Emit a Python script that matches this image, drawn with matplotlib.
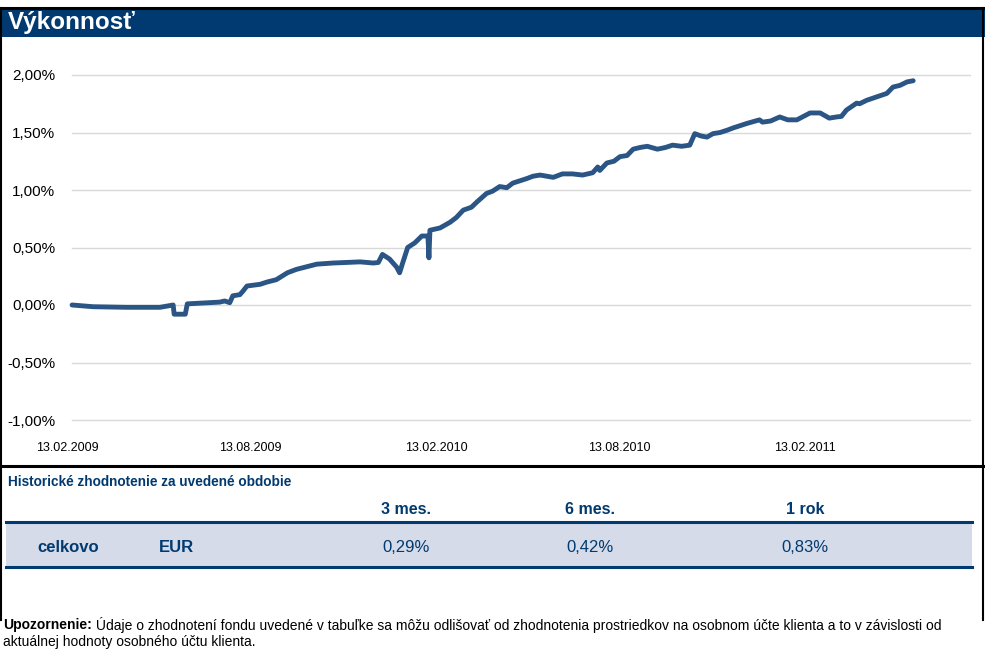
import numpy as np
import matplotlib
matplotlib.use("Agg")
import matplotlib.pyplot as plt
import matplotlib.dates as mdates
from matplotlib.lines import Line2D
from matplotlib.patches import Rectangle

# performance series
dates = [
    "2009-02-18", "2009-03-11", "2009-04-13", "2009-05-16", "2009-05-29",
    "2009-05-30", "2009-06-10", "2009-06-12", "2009-07-14", "2009-07-19",
    "2009-07-24", "2009-07-27", "2009-08-03", "2009-08-06", "2009-08-10",
    "2009-08-23", "2009-08-30", "2009-09-08", "2009-09-19", "2009-09-28",
    "2009-10-18", "2009-11-03", "2009-11-30", "2009-12-13", "2009-12-18",
    "2009-12-22", "2009-12-29", "2010-01-05", "2010-01-08", "2010-01-11",
    "2010-01-16", "2010-01-23", "2010-01-30", "2010-02-05", "2010-02-06",
    "2010-02-07", "2010-02-17", "2010-02-27", "2010-03-05", "2010-03-12",
    "2010-03-20", "2010-03-26", "2010-04-04", "2010-04-10", "2010-04-17",
    "2010-04-24", "2010-04-30", "2010-05-07", "2010-05-14", "2010-05-20",
    "2010-05-27", "2010-06-09", "2010-06-18", "2010-06-28", "2010-07-08",
    "2010-07-18", "2010-07-23", "2010-07-25", "2010-08-01", "2010-08-08",
    "2010-08-14", "2010-08-21", "2010-08-27", "2010-09-03", "2010-09-10",
    "2010-09-20", "2010-09-28", "2010-10-05", "2010-10-14", "2010-10-22",
    "2010-10-27", "2010-11-02", "2010-11-08", "2010-11-14", "2010-11-21",
    "2010-11-28", "2010-12-04", "2010-12-11", "2010-12-18", "2010-12-30",
    "2011-01-02", "2011-01-10", "2011-01-19", "2011-01-27", "2011-02-05",
    "2011-02-18", "2011-02-28", "2011-03-09", "2011-03-16", "2011-03-21",
    "2011-03-26", "2011-04-05", "2011-04-08", "2011-04-15", "2011-04-25",
    "2011-05-05", "2011-05-11", "2011-05-18", "2011-05-25", "2011-05-31",
]
values = [
    0.00, -0.015, -0.02, -0.02, 0.00,
    -0.08, -0.08, 0.01, 0.025, 0.035,
    0.02, 0.08, 0.09, 0.12, 0.165,
    0.18, 0.20, 0.22, 0.28, 0.31,
    0.355, 0.365, 0.375, 0.365, 0.37,
    0.44, 0.40, 0.33, 0.28, 0.365,
    0.50, 0.54, 0.60, 0.60, 0.41,
    0.65, 0.67, 0.72, 0.76, 0.825,
    0.85, 0.90, 0.97, 0.99, 1.03,
    1.02, 1.06, 1.08, 1.10, 1.12,
    1.13, 1.11, 1.14, 1.14, 1.13,
    1.15, 1.20, 1.17, 1.235, 1.25,
    1.29, 1.30, 1.355, 1.37, 1.38,
    1.355, 1.37, 1.39, 1.38, 1.39,
    1.49, 1.47, 1.46, 1.49, 1.50,
    1.52, 1.54, 1.56, 1.58, 1.61,
    1.59, 1.60, 1.635, 1.61, 1.61,
    1.67, 1.67, 1.625, 1.635, 1.64,
    1.695, 1.755, 1.75, 1.78, 1.81,
    1.84, 1.895, 1.91, 1.94, 1.95,
]
xtick_dates = ["2009-02-13", "2009-08-13", "2010-02-13", "2010-08-13", "2011-02-13"]
xtick_labels = ["13.02.2009", "13.08.2009", "13.02.2010", "13.08.2010", "13.02.2011"]
yticks = [-1.0, -0.5, 0.0, 0.5, 1.0, 1.5, 2.0]

# table
table_title = "Historické zhodnotenie za uvedené obdobie"
periods = ["3 mes.", "6 mes.", "1 rok"]
row_name = "celkovo"
currency = "EUR"
returns = ["0,29%", "0,42%", "0,83%"]

note_bold = "Upozornenie:"
note_line1 = (" Údaje o zhodnotení fondu uvedené v tabuľke sa môžu odlišovať od zhodnotenia "
              "prostriedkov na osobnom účte klienta a to v závislosti od")
note_line2 = "aktuálnej hodnoty osobného účtu klienta."

NAVY = "#003a70"
LINE = "#2b5584"
SHADE = "#d6dbe9"

W, H = 985, 652
plt.rcParams['font.family'] = ['Liberation Sans', 'DejaVu Sans']

fig = plt.figure(figsize=(W / 100, H / 100), dpi=100, facecolor="white")


def fx(x):
    return x / W


def fy(y):
    return 1 - y / H


# frame and title bar
fig.add_artist(Rectangle((0, fy(37)), 1, fy(9) - fy(37), transform=fig.transFigure,
                         facecolor=NAVY, edgecolor="none"))
fig.add_artist(Line2D([0, 1], [fy(8), fy(8)], color="black", lw=2.2))
fig.add_artist(Line2D([fx(1), fx(1)], [fy(8), fy(620)], color="black", lw=1.5))
fig.add_artist(Line2D([fx(983), fx(983)], [fy(8), fy(620)], color="black", lw=1.5))
fig.add_artist(Line2D([0, 1], [fy(465.5), fy(465.5)], color="black", lw=2.2))
fig.text(fx(8), fy(23), "Výkonnosť", color="white", fontsize=17.5,
         fontweight="bold", va="center", ha="left")

# chart
ax = fig.add_axes([fx(67), fy(420), fx(970) - fx(67), fy(60) - fy(420)])
start = mdates.datestr2num("2009-02-13")
px_per_day = 738 / 730
ax.set_xlim(start, start + 903 / px_per_day)
ax.set_ylim(-1.0, (305 - 60) / 115)

for v in yticks:
    ax.axhline(v, xmin=5 / 903, xmax=1, color="#d9d9d9", lw=1.0, zorder=1,
               clip_on=False)

x = mdates.datestr2num(dates)
ax.plot(x, values, color=LINE, lw=3.5, solid_joinstyle="round",
        solid_capstyle="round", zorder=3, clip_on=False)

ax.set_yticks(yticks)
ax.set_yticklabels([f"{v:.2f}%".replace(".", ",") for v in yticks])
ax.set_xticks(mdates.datestr2num(xtick_dates))
ax.set_xticklabels(xtick_labels)
ax.tick_params(axis="y", length=0, pad=8.5, labelsize=11)
ax.tick_params(axis="x", length=0, pad=16, labelsize=9)
for s in ax.spines.values():
    s.set_visible(False)

# table section
fig.text(fx(8), fy(482), table_title, color=NAVY, fontsize=9.8,
         fontweight="bold", va="center", ha="left")
col_x = [406, 590, 805]
for cx, p in zip(col_x, periods):
    fig.text(fx(cx), fy(510), p, color=NAVY, fontsize=11.5, fontweight="bold",
             ha="center", va="center")
fig.add_artist(Rectangle((fx(6), fy(566)), fx(972) - fx(6), fy(523) - fy(566),
                         transform=fig.transFigure, facecolor=SHADE, edgecolor="none"))
fig.add_artist(Line2D([fx(6), fx(972)], [fy(522), fy(522)], color=NAVY, lw=2.2))
fig.add_artist(Line2D([fx(6), fx(972)], [fy(567), fy(567)], color=NAVY, lw=2.2))
fig.text(fx(68), fy(548), row_name, color=NAVY, fontsize=12, fontweight="bold",
         ha="center", va="center")
fig.text(fx(176), fy(548), currency, color=NAVY, fontsize=12, fontweight="bold",
         ha="center", va="center")
for cx, r in zip(col_x, returns):
    fig.text(fx(cx), fy(548), r, color=NAVY, fontsize=12, ha="center", va="center")

# footnote
t = fig.text(fx(3), fy(625), note_bold, fontsize=10, fontweight="bold",
             ha="left", va="center")
fig.canvas.draw()
bb = t.get_window_extent(fig.canvas.get_renderer())
fig.text(bb.x1 / W, fy(625), note_line1, fontsize=10,
         ha="left", va="center")
fig.text(fx(3), fy(642), note_line2, fontsize=10,
         ha="left", va="center")

fig.savefig("out.png", dpi=100, facecolor="white")
